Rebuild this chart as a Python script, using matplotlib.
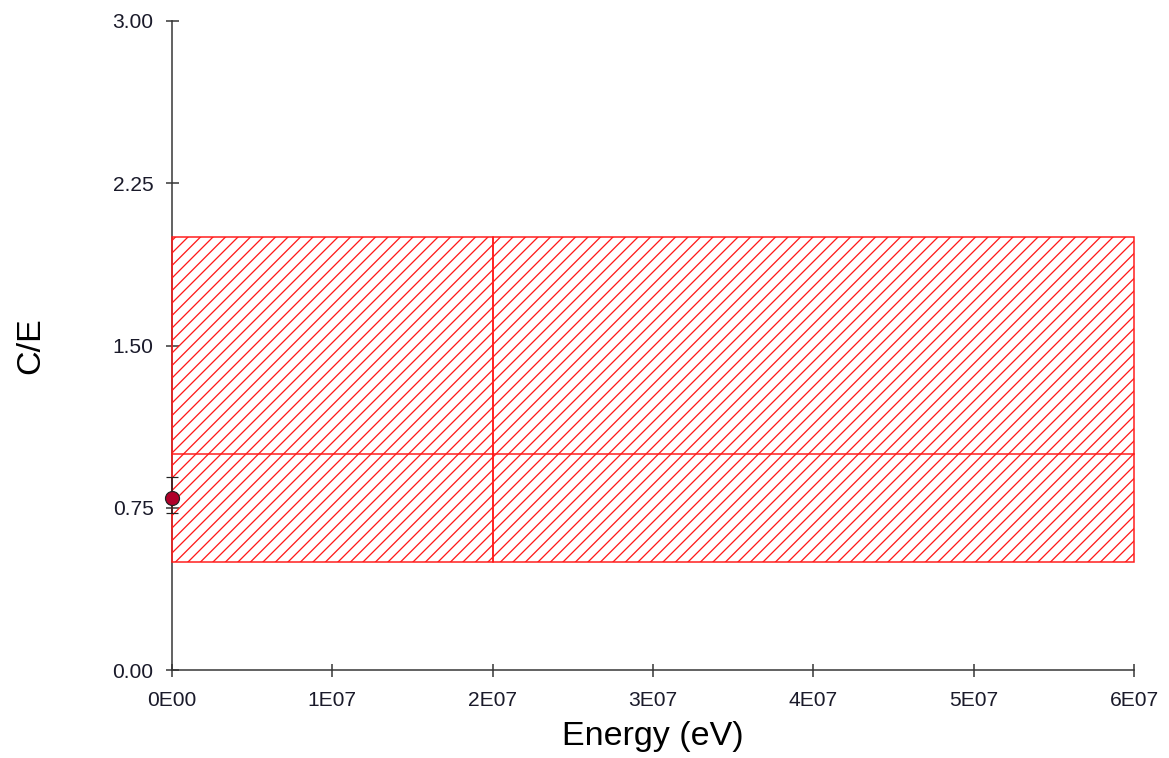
import matplotlib
matplotlib.use("Agg")
import matplotlib.pyplot as plt
import matplotlib.patches as patches
from matplotlib.ticker import FuncFormatter, FixedLocator

# energy group boundaries (eV) and C/E band for each group
group_edges = [0.0, 2.0e7, 6.0e7]
band_low = [0.5, 0.5]
band_high = [2.0, 2.0]
band_mid = [1.0, 1.0]

# measured C/E point
point_energy = [0.0253]
point_ce = [0.795]
point_err_low = [0.07]
point_err_high = [0.095]

x_ticks = [0, 1e7, 2e7, 3e7, 4e7, 5e7, 6e7]
y_ticks = [0.0, 0.75, 1.50, 2.25, 3.00]

DPI = 75
def px(p):
    # pixel size -> points at this dpi
    return p * 72.0 / DPI

plt.rcParams['font.family'] = ['Liberation Sans', 'DejaVu Sans']
plt.rcParams['hatch.linewidth'] = px(1.3)

fig = plt.figure(figsize=(1169 / DPI, 758 / DPI), dpi=DPI, facecolor='white')
ax = fig.add_axes([172 / 1169, 88 / 758, (1134 - 172) / 1169, (670 - 21) / 758])

for i in range(len(band_low)):
    x0, x1 = group_edges[i], group_edges[i + 1]
    rect = patches.Rectangle((x0, band_low[i]), x1 - x0, band_high[i] - band_low[i],
                             facecolor='none', edgecolor='#ff1a1a', hatch='//',
                             linewidth=px(1.5), zorder=3, clip_on=False)
    ax.add_patch(rect)
    ax.plot([x0, x1], [band_mid[i], band_mid[i]], color='#ff1a1a',
            linewidth=px(1.5), zorder=3, clip_on=False)

ax.errorbar(point_energy, point_ce, yerr=[point_err_low, point_err_high],
            fmt='o', color='black', ecolor='#222222', elinewidth=px(1.5),
            capsize=px(6), capthick=px(1.5), markersize=px(14),
            markerfacecolor='#b0002a', markeredgecolor='#222222',
            markeredgewidth=px(1.2), zorder=5, clip_on=False)

ax.set_xlim(0, 6e7)
ax.set_ylim(0, 3.0)

def energy_fmt(v, pos):
    if v == 0:
        return '0E00'
    exp = 0
    m = v
    while abs(m) >= 10:
        m /= 10
        exp += 1
    return '%dE%02d' % (round(m), exp)

ax.xaxis.set_major_locator(FixedLocator(x_ticks))
ax.yaxis.set_major_locator(FixedLocator(y_ticks))
ax.xaxis.set_major_formatter(FuncFormatter(energy_fmt))
ax.yaxis.set_major_formatter(FuncFormatter(lambda v, p: '%.2f' % v))

for s in ['top', 'right']:
    ax.spines[s].set_visible(False)
for s in ['left', 'bottom']:
    ax.spines[s].set_color('#333333')
    ax.spines[s].set_linewidth(px(1.5))

ax.tick_params(axis='both', direction='inout', length=px(13), width=px(1.5),
               color='#333333', labelsize=px(21), labelcolor='#1a1a2a')
ax.tick_params(axis='x', pad=px(14))
ax.tick_params(axis='y', pad=px(12))

ax.set_xlabel('Energy (eV)', fontsize=px(34), labelpad=px(12))
ax.set_ylabel('C/E', fontsize=px(34), labelpad=px(66))

fig.savefig('out.png', dpi=DPI, facecolor='white')
